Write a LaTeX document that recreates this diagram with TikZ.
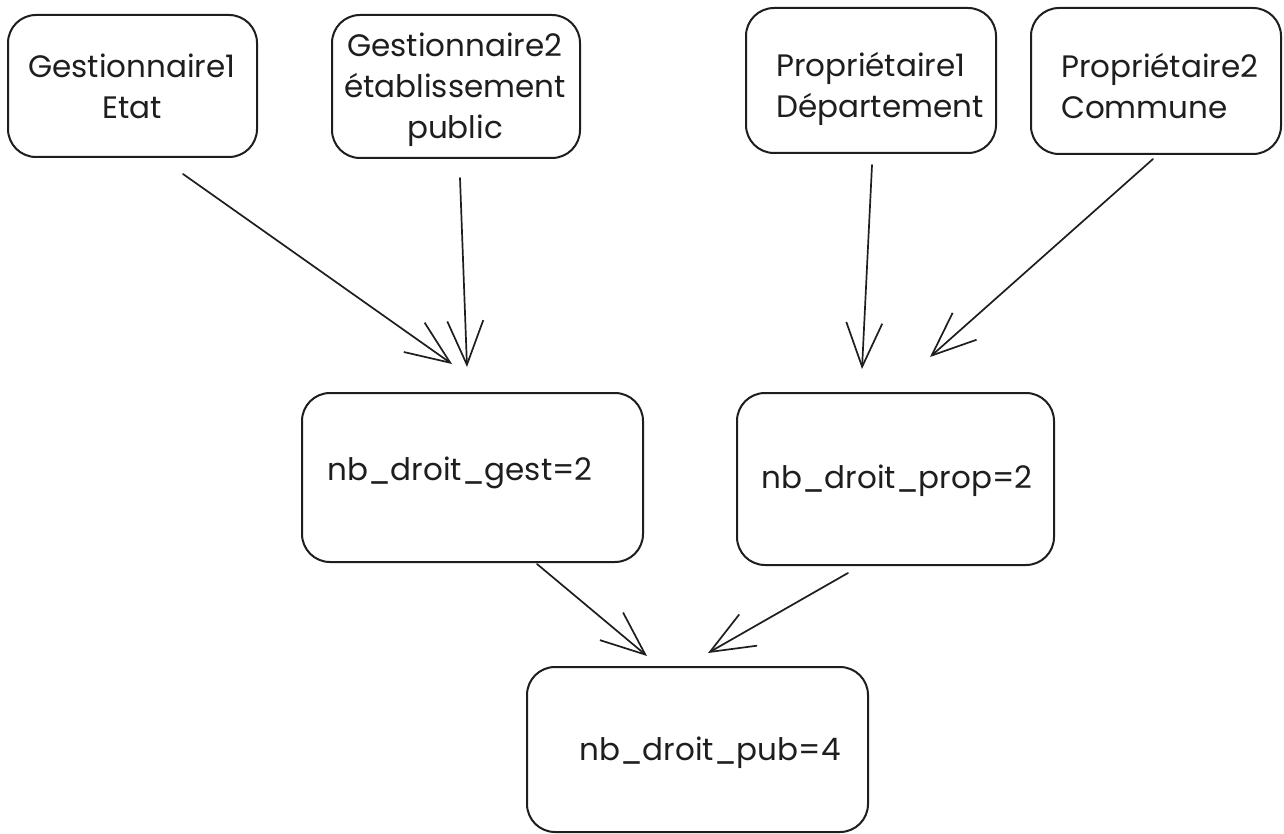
\documentclass[tikz,border=0pt]{standalone}
\usepackage{fontspec}
\setmainfont{Poppins}
\usetikzlibrary{arrows.meta}
\definecolor{ink}{HTML}{1E1E1E}
\begin{document}
\begin{tikzpicture}[x=1pt,y=-1pt,
  box/.style={draw=ink, line width=2pt, rounded corners=28pt, inner sep=0pt},
  lbl/.style={inner sep=0pt, text=ink, font=\fontsize{31}{41}\selectfont},
  arr/.style={draw=ink, line width=1.7pt, line cap=round,
    -{Straight Barb[length=44pt,width=36pt,line width=1.7pt]}},
]
\useasboundingbox[fill=white] (0,0) rectangle (1284,834);

% boxes
\node[box, minimum width=249pt, minimum height=142pt] (g1)   at (132.5,86)  {};
\node[box, minimum width=248pt, minimum height=143pt] (g2)   at (456,86.5)  {};
\node[box, minimum width=250pt, minimum height=145pt] (p1)   at (871,80.5)  {};
\node[box, minimum width=250pt, minimum height=146pt] (p2)   at (1156,81)   {};
\node[box, minimum width=341pt, minimum height=169pt] (gest) at (472.5,477.5) {};
\node[box, minimum width=317pt, minimum height=172pt] (prop) at (895.5,479) {};
\node[box, minimum width=341pt, minimum height=165pt] (pub)  at (697.5,749.5) {};

% labels
\node[lbl, align=center] (t1) at (132,86) {Gestionnaire1\\Etat};
\node[lbl, align=center] (t2) at (455,90) {Gestionnaire2\\établissement\\public};
\node[lbl, align=left, anchor=west] (t3) at (776,89) {Propriétaire1\\Département};
\node[lbl, align=left, anchor=west] (t4) at (1061,86.5) {Propriétaire2\\Commune};
\node[lbl, anchor=base] (t5) at (460,480) {nb\_droit\_gest=2};
\node[lbl, anchor=base] (t6) at (897,488) {nb\_droit\_prop=2};
\node[lbl, anchor=base] (t7) at (710,760) {nb\_droit\_pub=4};

% arrow ends, kept a little away from the boxes
\coordinate (g1-o)   at ([shift={(50.5,16)}]g1.south);
\coordinate (g2-o)   at ([shift={(4,19)}]g2.south);
\coordinate (p1-o)   at ([shift={(1,11)}]p1.south);
\coordinate (p2-o)   at ([shift={(-3,4)}]p2.south);
\coordinate (gest-a) at ([shift={(-20.5,-28)}]gest.north);
\coordinate (gest-b) at ([shift={(-5.5,-25)}]gest.north);
\coordinate (prop-a) at ([shift={(-33.5,-23)}]prop.north);
\coordinate (prop-b) at ([shift={(34.5,-35)}]prop.north);
\coordinate (gest-o) at ([shift={(64.5,1)}]gest.south);
\coordinate (prop-o) at ([shift={(-47.5,7)}]prop.south);
\coordinate (pub-a)  at ([shift={(-50.5,-10)}]pub.north);
\coordinate (pub-b)  at ([shift={(10.5,-13)}]pub.north);

% connectors
\draw[arr] (g1-o) -- (gest-a);
\draw[arr] (g2-o) -- (gest-b);
\draw[arr] (p1-o) -- (prop-a);
\draw[arr] (p2-o) -- (prop-b);
\draw[arr] (gest-o) -- (pub-a);
\draw[arr] (prop-o) -- (pub-b);
\end{tikzpicture}
\end{document}
